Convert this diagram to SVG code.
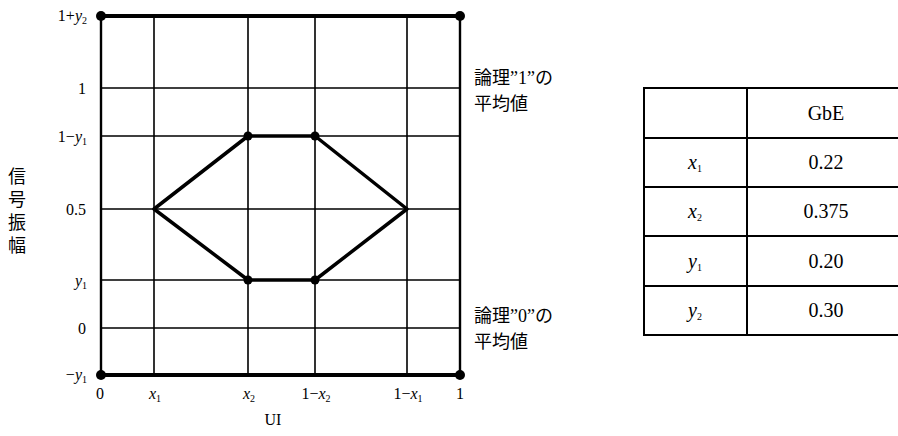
<svg xmlns="http://www.w3.org/2000/svg" width="898" height="436" viewBox="0 0 898 436">
<style>
text{font-family:"Liberation Serif","Noto Sans CJK JP",serif;fill:#000}
.ax{font-size:16px}
.jp{font-size:18px;font-family:"Noto Sans CJK JP","Liberation Serif",sans-serif}
.tb{font-size:20px}
.v{font-style:italic}
.s{font-size:10px}
.grid{stroke:#000;stroke-width:1.6;fill:none}
.bold{stroke:#000;stroke-width:4;fill:none}
.side{stroke:#000;stroke-width:2.4;fill:none}
.hex{stroke:#000;stroke-width:3.5;fill:none;stroke-linejoin:round}
.tl{stroke:#000;stroke-width:2;fill:none}
</style>
<g id="grid">
<path class="grid" d="M101 88H460M101 136H460M101 209H460M101 280H460M101 328H460M154 16V375M248 16V375M315 16V375M407 16V375"/>
<path class="side" d="M101 16V375M460 16V375"/>
<path class="bold" d="M101 16H460M101 375H460"/>
</g>
<g id="connectors">
<path class="hex" d="M154 209L248 136H315L407 209L315 280H248Z"/>
</g>
<g id="dots" fill="#000">
<circle cx="101" cy="16" r="5"/><circle cx="460" cy="16" r="5"/>
<circle cx="101" cy="375" r="5"/><circle cx="460" cy="375" r="5"/>
<circle cx="248" cy="136" r="4.5"/><circle cx="315" cy="136" r="4.5"/>
<circle cx="248" cy="280" r="4.5"/><circle cx="315" cy="280" r="4.5"/>
</g>
<g id="ylabels" class="ax" text-anchor="end">
<text x="87" y="21">1+<tspan class="v">y</tspan><tspan class="s" dy="3">2</tspan></text>
<text x="86" y="94">1</text>
<text x="87" y="142">1−<tspan class="v">y</tspan><tspan class="s" dy="3">1</tspan></text>
<text x="86" y="215">0.5</text>
<text x="87" y="286"><tspan class="v">y</tspan><tspan class="s" dy="3">1</tspan></text>
<text x="86" y="334">0</text>
<text x="87" y="380">−<tspan class="v">y</tspan><tspan class="s" dy="3">1</tspan></text>
</g>
<g id="xlabels" class="ax" text-anchor="middle">
<text x="100" y="399">0</text>
<text x="155" y="399"><tspan class="v">x</tspan><tspan class="s" dy="3">1</tspan></text>
<text x="249" y="399"><tspan class="v">x</tspan><tspan class="s" dy="3">2</tspan></text>
<text x="316" y="399">1−<tspan class="v">x</tspan><tspan class="s" dy="3">2</tspan></text>
<text x="408" y="399">1−<tspan class="v">x</tspan><tspan class="s" dy="3">1</tspan></text>
<text x="460" y="399">1</text>
<text x="273" y="425">UI</text>
</g>
<g id="ytitle" class="jp" text-anchor="middle">
<text x="17" y="183">信</text>
<text x="17" y="206">号</text>
<text x="17" y="229">振</text>
<text x="17" y="252">幅</text>
</g>
<g id="label1" class="jp">
<text x="474" y="84">論理”1”の</text>
<text x="474" y="110">平均値</text>
</g>
<g id="label0" class="jp">
<text x="474" y="322">論理”0”の</text>
<text x="474" y="348">平均値</text>
</g>
<g id="table">
<path class="tl" d="M644 88H898M644 138H898M644 187H898M644 236H898M644 286H898M644 335H898M644 87V336M747 87V336"/>
<g class="tb" text-anchor="middle">
<text x="826" y="120">GbE</text>
<text x="826" y="169">0.22</text>
<text x="826" y="218">0.375</text>
<text x="826" y="268">0.20</text>
<text x="826" y="317">0.30</text>
<text x="695" y="169"><tspan class="v">x</tspan><tspan class="s" dy="3">1</tspan></text>
<text x="695" y="218"><tspan class="v">x</tspan><tspan class="s" dy="3">2</tspan></text>
<text x="695" y="268"><tspan class="v">y</tspan><tspan class="s" dy="3">1</tspan></text>
<text x="695" y="317"><tspan class="v">y</tspan><tspan class="s" dy="3">2</tspan></text>
</g>
</g>
</svg>
